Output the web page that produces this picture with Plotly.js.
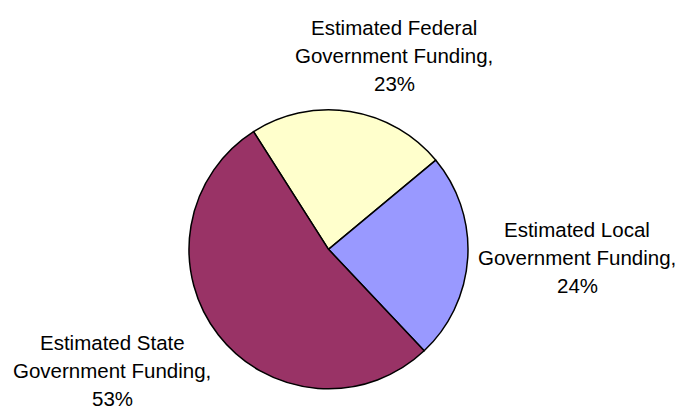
<!DOCTYPE html>
<html>
<head>
<meta charset="utf-8">
<script src="https://cdn.plot.ly/plotly-3.0.1.min.js"></script>
<style>html,body{margin:0;padding:0;background:#fff;}#chart{width:683px;height:411px;}</style>
</head>
<body>
<div id="chart"></div>
<script>
// Data
const categories = ["Estimated Federal", "Estimated Local", "Estimated State"];
const subLabels = ["Government Funding,", "Government Funding,", "Government Funding,"];
const shares = [23, 24, 53];
const colors = ["#FFFFCC", "#9999FF", "#993366"];

// Layout helpers (pixel positions of label block centres and first-line baselines)
const W = 683, H = 411;
const labelPos = [
  {x: 394, y: 35},
  {x: 577, y: 237},
  {x: 112, y: 350}
];
const pitch = 28, fs = 20.5;

const annotations = [];
categories.forEach((c, i) => {
  const lines = [c, subLabels[i], shares[i] + "%"];
  lines.forEach((t, k) => {
    const base = labelPos[i].y + k * pitch;
    annotations.push({
      text: t, xref: "paper", yref: "paper",
      x: labelPos[i].x / W, y: 1 - (base - 7.1) / H,
      xanchor: "center", yanchor: "middle", showarrow: false,
      font: {family: "Liberation Sans, Arial, sans-serif", size: fs, color: "#000"}
    });
  });
});

const cx = 328.5, cy = 249.3, r = 139.5;
const trace = {
  type: "pie",
  labels: categories,
  values: shares,
  sort: false,
  direction: "clockwise",
  rotation: -32.5,
  marker: {colors: colors, line: {color: "#000", width: 1.5}},
  textinfo: "none",
  hoverinfo: "none",
  domain: {x: [(cx - r) / W, (cx + r) / W], y: [(H - cy - r) / H, (H - cy + r) / H]}
};

Plotly.newPlot("chart", [trace], {
  width: W, height: H,
  margin: {l: 0, r: 0, t: 0, b: 0},
  showlegend: false,
  paper_bgcolor: "#fff",
  annotations: annotations
}, {staticPlot: true});
</script>
</body>
</html>
